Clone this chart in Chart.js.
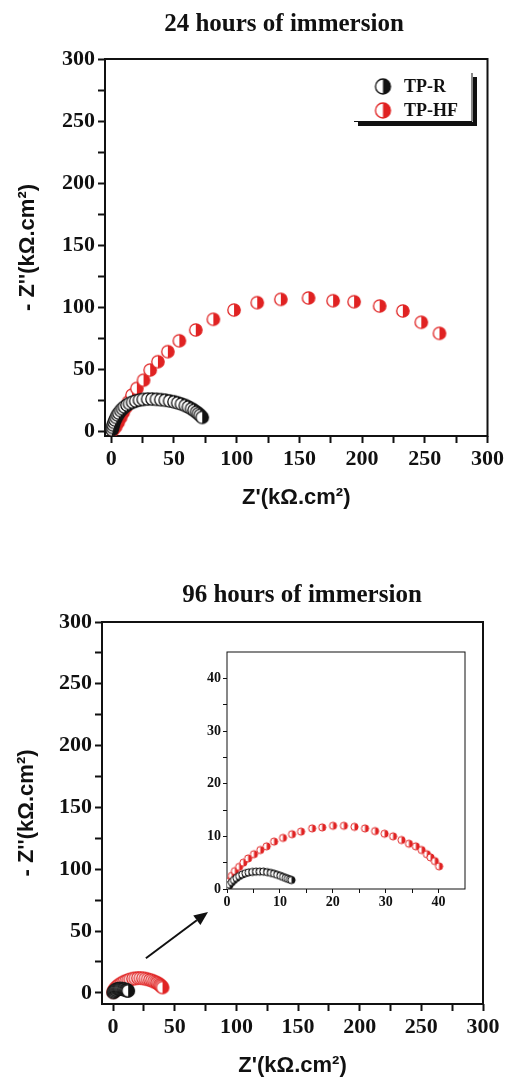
<!DOCTYPE html>
<html><head><meta charset="utf-8">
<script src="https://cdn.jsdelivr.net/npm/chart.js@4.4.1/dist/chart.umd.min.js"></script>
<style>
html,body{margin:0;padding:0;background:#fff;width:507px;height:1077px;overflow:hidden;position:relative}
canvas{position:absolute}
#c1{left:0;top:0}
#c2{left:0;top:560px}
#c3{left:187px;top:640px}
</style></head><body>
<canvas id="c1" width="507" height="540"></canvas>
<canvas id="c2" width="507" height="530"></canvas>
<canvas id="c3" width="290" height="272"></canvas>
<script>
// ---------- data ----------
const seriesNames = ['TP-R', 'TP-HF'];
const chartTitles = ['24 hours of immersion', '96 hours of immersion'];
const xTitle = "Z'(kΩ.cm²)";
const yTitle = "- Z''(kΩ.cm²)";

// 24 hours
const r24x = [0.5, 1, 1.5, 2.2, 3, 4, 5, 6, 7.5, 9, 10.5, 12.5, 14.5, 17, 19.5, 22.5, 25.5, 29, 32.5, 36, 39.5, 43, 46.5, 50, 53, 56, 59, 61.5, 64, 66, 68, 69.5, 71, 72.5];
const r24y = [1, 3, 5, 7, 9, 11, 13, 14.5, 16.5, 18, 19.5, 21, 22.2, 23.3, 24.2, 25, 25.5, 25.8, 25.8, 25.6, 25.3, 24.9, 24.3, 23.6, 22.8, 21.8, 20.6, 19.4, 18, 16.7, 15.3, 14, 12.7, 11];
const hf24x = [1.5, 3.5, 5.5, 7.5, 9.5, 11.5, 13.8, 16.5, 20.4, 25.7, 31.0, 37.2, 45.1, 54.3, 67.4, 81.4, 97.9, 116.4, 135.2, 157.3, 176.9, 193.6, 214.0, 232.5, 247.2, 261.7];
const hf24y = [1, 3.5, 7, 11, 15, 19, 23.6, 29, 34.4, 41, 49.2, 55.9, 64.0, 72.8, 81.5, 90.1, 97.6, 103.5, 106.2, 107.3, 105.1, 104.3, 100.8, 96.8, 87.7, 78.8];

// 96 hours
const r96x = [0.2, 0.5, 0.9, 1.3, 1.8, 2.3, 2.9, 3.5, 4.1, 4.8, 5.5, 6.2, 6.9, 7.6, 8.3, 8.9, 9.5, 10.1, 10.6, 11.1, 11.5, 11.9, 12.2];
const r96y = [0.3, 0.8, 1.3, 1.7, 2.1, 2.45, 2.75, 3.0, 3.15, 3.25, 3.3, 3.3, 3.3, 3.2, 3.05, 2.9, 2.7, 2.5, 2.3, 2.1, 1.95, 1.8, 1.7];
const hf96x = [0.2, 0.3, 0.9, 1.5, 2.3, 3.1, 4.0, 5.1, 6.3, 7.5, 8.9, 10.6, 12.3, 14.0, 16.1, 18.0, 20.05, 22.1, 24.1, 26.1, 28.0, 29.8, 31.4, 33.0, 34.4, 35.7, 36.8, 37.8, 38.5, 39.3, 40.1];
const hf96y = [0.6, 1.4, 2.5, 3.4, 4.2, 5.0, 5.8, 6.6, 7.4, 8.1, 9.0, 9.7, 10.4, 10.9, 11.5, 11.7, 12.0, 12.0, 11.8, 11.5, 11.0, 10.5, 10.0, 9.3, 8.6, 8.1, 7.4, 6.6, 6.0, 5.3, 4.3];

// ticks
const mainMajorTicks = [0, 50, 100, 150, 200, 250, 300];
const mainMinorTicks = [25, 75, 125, 175, 225, 275];
const insetMajorTicks = [0, 10, 20, 30, 40];
const insetMinorTicks = [5, 15, 25, 35];

// arrow (data units of the 96 h main plot)
const arrowFrom = [26.6, 28];
const arrowTo = [77, 65.5];

// ---------- styling helpers ----------
const RED = '#e02222', BLACK = '#111111';
const SERIF = "'Liberation Serif', 'Times New Roman', serif";
const SANS = "'Liberation Sans', Arial, sans-serif";

function halfDot(r, color, lw) {
  const s = Math.ceil(2 * r + lw + 2);
  const c = document.createElement('canvas');
  c.width = s; c.height = s;
  const g = c.getContext('2d');
  const m = s / 2;
  g.beginPath(); g.arc(m, m, r, 0, 2 * Math.PI); g.fillStyle = '#fff'; g.fill();
  g.beginPath(); g.moveTo(m, m - r); g.arc(m, m, r, -Math.PI / 2, Math.PI / 2); g.closePath();
  g.fillStyle = color; g.fill();
  g.beginPath(); g.arc(m, m, r, 0, 2 * Math.PI); g.lineWidth = lw; g.strokeStyle = color; g.stroke();
  return c;
}

function pts(xs, ys) { return xs.map((x, i) => ({x: x, y: ys[i]})); }

function axis(pos, min, max, major, minor, o) {
  return {
    type: 'linear', position: pos, min: min, max: max, bounds: 'data',
    afterBuildTicks: s => { s.ticks = major.concat(minor).sort((a, b) => a - b).map(v => ({value: v})); },
    afterFit: s => { if (s.isHorizontal()) s.height = o.size; else s.width = o.size; },
    ticks: {autoSkip: false, maxRotation: 0, padding: o.pad, color: BLACK,
      font: {family: SERIF, weight: 'bold', size: o.font},
      callback: v => major.includes(v) ? String(v) : ''},
    grid: {drawOnChartArea: false, drawTicks: true, tickLength: o.tl, tickWidth: o.tw, tickColor: BLACK},
    border: {display: false},
    title: {display: !!o.title, text: o.title || '', color: BLACK,
      font: {family: SANS, weight: 'bold', size: 22, lineHeight: 1}, padding: o.tpad || 0}
  };
}

const framePlugin = {
  id: 'frame',
  beforeDraw(chart, args, opts) {
    if (opts.fill) {
      const a = chart.chartArea, c = chart.ctx;
      c.save(); c.fillStyle = '#fff'; c.fillRect(a.left, a.top, a.width, a.height); c.restore();
    }
  },
  beforeDatasetsDraw(chart, args, opts) {
    const a = chart.chartArea, c = chart.ctx;
    c.save(); c.lineWidth = opts.lw || 2; c.strokeStyle = BLACK;
    c.strokeRect(a.left, a.top, a.width, a.height);
    c.restore();
  }
};

const headingPlugin = {
  id: 'heading',
  afterDraw(chart, args, opts) {
    if (!opts.text) return;
    const c = chart.ctx;
    c.save(); c.fillStyle = BLACK; c.font = 'bold 25px ' + SERIF;
    c.textAlign = 'center'; c.textBaseline = 'middle';
    c.fillText(opts.text, opts.x, opts.y);
    c.restore();
  }
};

const legendPlugin = {
  id: 'boxLegend',
  afterDraw(chart, args, opts) {
    if (!opts.show) return;
    const c = chart.ctx;
    c.save();
    c.strokeStyle = BLACK; c.lineWidth = 1;
    c.beginPath(); c.moveTo(472, 73); c.lineTo(472, 121.5); c.lineTo(354, 121.5); c.stroke();
    c.fillStyle = BLACK;
    c.fillRect(473, 77, 4, 49);
    c.fillRect(358, 122, 119, 4);
    const icons = [halfDot(7.5, BLACK, 1.3), halfDot(7.5, RED, 1.3)];
    const ys = [86.5, 110.5];
    c.font = 'bold 18px ' + SERIF; c.textBaseline = 'middle'; c.textAlign = 'left';
    seriesNames.forEach((n, i) => {
      c.drawImage(icons[i], 383 - icons[i].width / 2, ys[i] - icons[i].height / 2);
      c.fillText(n, 404, ys[i] + 1);
    });
    c.restore();
  }
};

const arrowPlugin = {
  id: 'arrow',
  afterDraw(chart, args, opts) {
    if (!opts.from) return;
    const xs = chart.scales.x, ys = chart.scales.y, c = chart.ctx;
    const x0 = xs.getPixelForValue(opts.from[0]), y0 = ys.getPixelForValue(opts.from[1]);
    const x1 = xs.getPixelForValue(opts.to[0]), y1 = ys.getPixelForValue(opts.to[1]);
    const ang = Math.atan2(y1 - y0, x1 - x0), L = 14, W = 6;
    const bx = x1 - L * Math.cos(ang), by = y1 - L * Math.sin(ang);
    c.save(); c.strokeStyle = BLACK; c.fillStyle = BLACK; c.lineWidth = 2;
    c.beginPath(); c.moveTo(x0, y0); c.lineTo(bx, by); c.stroke();
    c.beginPath(); c.moveTo(x1, y1);
    c.lineTo(bx + W * Math.sin(ang), by - W * Math.cos(ang));
    c.lineTo(bx - W * Math.sin(ang), by + W * Math.cos(ang));
    c.closePath(); c.fill();
    c.restore();
  }
};

function makeChart(id, cfg) {
  return new Chart(document.getElementById(id), {
    type: 'scatter',
    data: {datasets: [
      {label: seriesNames[0], data: pts(cfg.rx, cfg.ry), pointStyle: halfDot(cfg.r, BLACK, cfg.lw)},
      {label: seriesNames[1], data: pts(cfg.hx, cfg.hy), pointStyle: halfDot(cfg.r, RED, cfg.lw)}
    ]},
    options: {
      responsive: false, animation: false, events: [], devicePixelRatio: 1,
      layout: {padding: cfg.padding},
      scales: {x: cfg.x, y: cfg.y},
      plugins: {
        legend: {display: false}, tooltip: {enabled: false}, title: {display: false},
        frame: {lw: cfg.frame, fill: cfg.fill},
        heading: cfg.heading || {},
        boxLegend: {show: !!cfg.legend},
        arrow: cfg.arrow || {}
      }
    },
    plugins: [framePlugin, headingPlugin, legendPlugin, arrowPlugin]
  });
}

// Top: 24 h
makeChart('c1', {
  rx: r24x, ry: r24y, hx: hf24x, hy: hf24y, r: 6.2, lw: 1.3, frame: 2,
  padding: {top: 59, right: 19, left: 0, bottom: 0},
  x: axis('bottom', -5, 300, mainMajorTicks, mainMinorTicks, {size: 104, pad: 3, font: 22, tl: 7, tw: 2, title: xTitle, tpad: {top: 0, bottom: 31}}),
  y: axis('left', -4, 300, mainMajorTicks, mainMinorTicks, {size: 105, pad: 3, font: 22, tl: 7, tw: 2, title: yTitle, tpad: {top: 17, bottom: 0}}),
  heading: {text: chartTitles[0], x: 284, y: 25},
  legend: true
});

// Bottom: 96 h
makeChart('c2', {
  rx: r96x, ry: r96y, hx: hf96x, hy: hf96y, r: 6.2, lw: 1.3, frame: 2,
  padding: {top: 62, right: 24, left: 0, bottom: 0},
  x: axis('bottom', -9, 300, mainMajorTicks, mainMinorTicks, {size: 86, pad: 3, font: 22, tl: 7, tw: 2, title: xTitle, tpad: {top: 0, bottom: 13}}),
  y: axis('left', -9, 300, mainMajorTicks, mainMinorTicks, {size: 102, pad: 3, font: 22, tl: 7, tw: 2, title: yTitle, tpad: {top: 16, bottom: 0}}),
  heading: {text: chartTitles[1], x: 302, y: 36},
  arrow: {from: arrowFrom, to: arrowTo}
});

// Inset: 96 h zoom
makeChart('c3', {
  rx: r96x, ry: r96y, hx: hf96x, hy: hf96y, r: 3.6, lw: 1, frame: 1, fill: true,
  padding: {top: 12, right: 12, left: 0, bottom: 0},
  x: axis('bottom', 0, 45, insetMajorTicks, insetMinorTicks, {size: 23, pad: 1, font: 14, tl: 4, tw: 1}),
  y: axis('left', 0, 45, insetMajorTicks, insetMinorTicks, {size: 40, pad: 2, font: 14, tl: 4, tw: 1})
});
</script>
</body></html>
